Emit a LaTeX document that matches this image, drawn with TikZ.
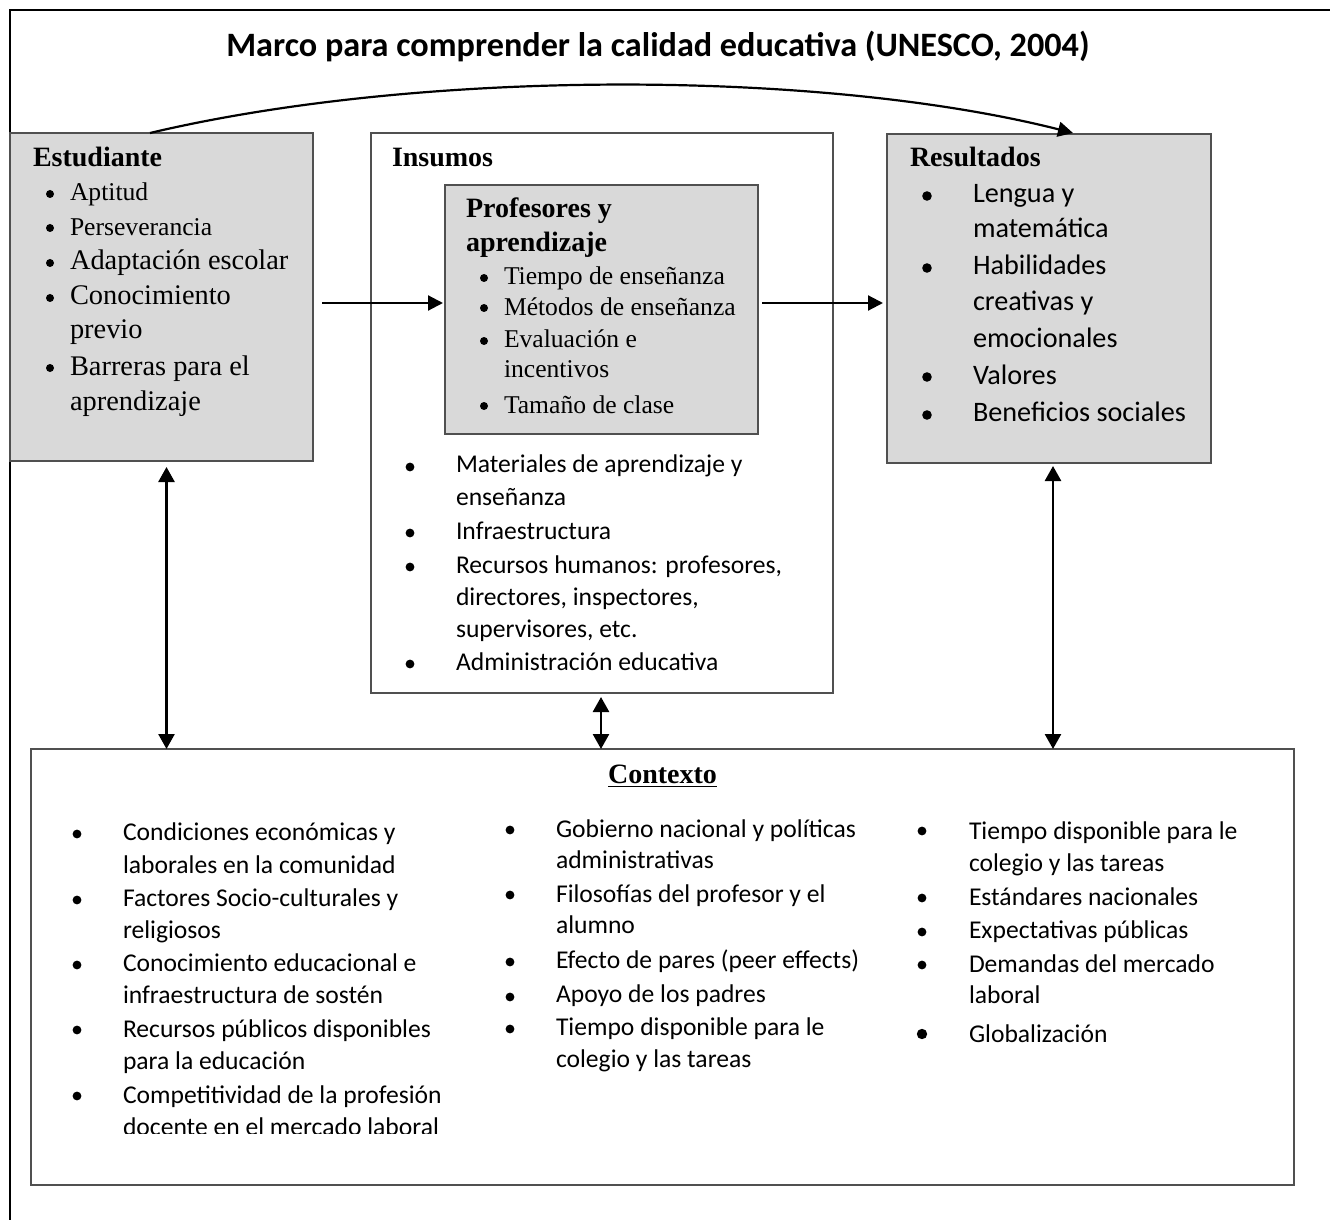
\documentclass[tikz,border=0pt]{standalone}
\usepackage{fontspec}
\setmainfont{Liberation Serif}
\newfontfamily\calfam{Carlito}
\usetikzlibrary{arrows.meta,calc}
\definecolor{bd}{HTML}{505050}
\definecolor{gfill}{HTML}{D9D9D9}
\newcounter{tn}
\newcommand\tx[3][]{\stepcounter{tn}\node[txt,#1] (t\arabic{tn}) at (#2) {#3};}
\newcommand\bu[2][2pt]{\fill (#2) circle (#1);}
\tikzset{
  txt/.style={anchor=base west, inner sep=0pt, outer sep=0pt},
  ser/.style={font=\fontsize{12.8}{15}\selectfont},
  serL/.style={font=\fontsize{14.2}{17}\selectfont},
  hd/.style={font=\bfseries\fontsize{14}{17}\selectfont},
  sans/.style={font=\calfam\fontsize{12.8}{15}\selectfont},
  sansL/.style={font=\calfam\fontsize{14.1}{17}\selectfont},
  box/.style={draw=bd, line width=0.8pt, anchor=north west, inner sep=0pt, outer sep=0pt},
  gbox/.style={box, fill=gfill},
  arr/.style={line width=1.1pt, -{Triangle[width=7.5pt,length=7.5pt]}},
  darr/.style={line width=1.3pt, {Triangle[width=8pt,length=7.5pt]}-{Triangle[width=8pt,length=7.5pt]}}
}
\begin{document}
\begin{tikzpicture}[x=0.5pt,y=-0.5pt]
\useasboundingbox (0,0) rectangle (1330,1220);
% outer frame
\draw[line width=1pt] (10,1220) -- (10,10) -- (1330,10);
% title
\node[font=\calfam\bfseries\fontsize{17.1}{20}\selectfont, anchor=base, inner sep=0pt] (title) at (658,57) {Marco para comprender la calidad educativa (UNESCO, 2004)};
% boxes
\node[gbox, minimum width=151.5pt, minimum height=164pt] (stud) at (10,133) {};
\node[box, minimum width=231pt, minimum height=280pt] (ins) at (371,133) {};
\node[gbox, minimum width=156.5pt, minimum height=124.5pt] (prof) at (445,185) {};
\node[gbox, minimum width=162pt, minimum height=164.5pt] (res) at (887,134) {};
\node[box, minimum width=631.5pt, minimum height=218pt] (ctx) at (31,749) {};
% connectors
\draw[arr] ($(stud.north west)+(140,0)$) .. controls (420,69) and (820,69) .. ($(res.north west)+(186,-1)$);
\draw[arr] ($(stud.east)+(9,6)$) -- ($(prof.west)+(-2,-6.5)$);
\draw[arr] ($(prof.east)+(4,-6.5)$) -- ($(res.west)+(-4,4.5)$);
\draw[darr] ($(stud.south)+(5,6)$) -- ($(stud.south |- ctx.north)+(5,0)$);
\draw[darr] ($(ins.south)+(-1,4)$) -- ($(ins.south |- ctx.north)+(-1,0)$);
\draw[darr] ($(res.south)+(4,3)$) -- ($(res.south |- ctx.north)+(4,0)$);
% Estudiante
\tx[hd]{33,167}{Estudiante}
\bu{50,194}\bu{50,228}\bu{50,263}\bu{50,298}\bu{50,368}
\tx[ser]{70,201}{Aptitud}
\tx[ser]{70,235}{Perseverancia}
\tx[serL]{70,270}{Adaptación escolar}
\tx[serL]{70,305}{Conocimiento}
\tx[serL]{70,338}{previo}
\tx[serL]{70,375}{Barreras para el}
\tx[serL]{70,410}{aprendizaje}
% Insumos
\tx[hd]{392,167}{Insumos}
\tx[hd]{466,218}{Profesores y}
\tx[hd]{466,252}{aprendizaje}
\bu{484,278}\bu{484,308}\bu{484,341}\bu{484,406}
\tx[ser]{504,285}{Tiempo de enseñanza}
\tx[ser]{504,315}{Métodos de enseñanza}
\tx[ser]{504,348}{Evaluación e}
\tx[ser]{504,378}{incentivos}
\tx[ser]{504,413}{Tamaño de clase}
\bu[2.2pt]{410,467}\bu[2.2pt]{410,533}\bu[2.2pt]{410,567}\bu[2.2pt]{410,664}
\tx[sans]{456,473}{Materiales de aprendizaje y}
\tx[sans]{456,505}{enseñanza}
\tx[sans]{456,539}{Infraestructura}
\tx[sans]{456,573}{Recursos humanos: profesores,}
\tx[sans]{456,605}{directores, inspectores,}
\tx[sans]{456,637}{supervisores, etc.}
\tx[sans]{456,670}{Administración educativa}
% Resultados
\tx[hd]{910,167}{Resultados}
\bu[2.4pt]{927,196}\bu[2.4pt]{927,268}\bu[2.4pt]{927,377}\bu[2.4pt]{927,415}
\tx[sansL]{973,203}{Lengua y}
\tx[sansL]{973,238}{matemática}
\tx[sansL]{973,275}{Habilidades}
\tx[sansL]{973,311}{creativas y}
\tx[sansL]{973,347}{emocionales}
\tx[sansL]{973,385}{Valores}
\tx[sansL]{973,422}{Beneficios sociales}
% Contexto
\node[hd, anchor=base, inner sep=0pt] (ctxt) at (662.5,783) {\underline{Contexto}};
\bu[2.2pt]{77,834}\bu[2.2pt]{77,900}\bu[2.2pt]{77,965}\bu[2.2pt]{77,1030}\bu[2.2pt]{77,1096}
\tx[sans]{123,840}{Condiciones económicas y}
\tx[sans]{123,873}{laborales en la comunidad}
\tx[sans]{123,906}{Factores Socio-culturales y}
\tx[sans]{123,938}{religiosos}
\tx[sans]{123,971}{Conocimiento educacional e}
\tx[sans]{123,1003}{infraestructura de sostén}
\tx[sans]{123,1037}{Recursos públicos disponibles}
\tx[sans]{123,1069}{para la educación}
\tx[sans]{123,1103}{Competitividad de la profesión}
\begin{scope}
\clip (31,1110) rectangle (1294,1133.5);
\tx[sans]{123,1135}{docente en el mercado laboral}
\end{scope}
\bu[2.2pt]{510,830}\bu[2.2pt]{510,895}\bu[2.2pt]{510,962}\bu[2.2pt]{510,997}\bu[2.2pt]{510,1029}
\tx[sans]{556,837}{Gobierno nacional y políticas}
\tx[sans]{556,868}{administrativas}
\tx[sans]{556,902}{Filosofías del profesor y el}
\tx[sans]{556,933}{alumno}
\tx[sans]{556,968}{Efecto de pares (peer effects)}
\tx[sans]{556,1002}{Apoyo de los padres}
\tx[sans]{556,1035}{Tiempo disponible para le}
\tx[sans]{556,1067}{colegio y las tareas}
\bu[2.2pt]{922,831}\bu[2.2pt]{922,898}\bu[2.2pt]{922,932}\bu[2.2pt]{922,965}\bu[2.6pt]{922,1034}
\tx[sans]{969,839}{Tiempo disponible para le}
\tx[sans]{969,871}{colegio y las tareas}
\tx[sans]{969,905}{Estándares nacionales}
\tx[sans]{969,938}{Expectativas públicas}
\tx[sans]{969,972}{Demandas del mercado}
\tx[sans]{969,1003}{laboral}
\tx[sans]{969,1042}{Globalización}
\end{tikzpicture}
\end{document}
